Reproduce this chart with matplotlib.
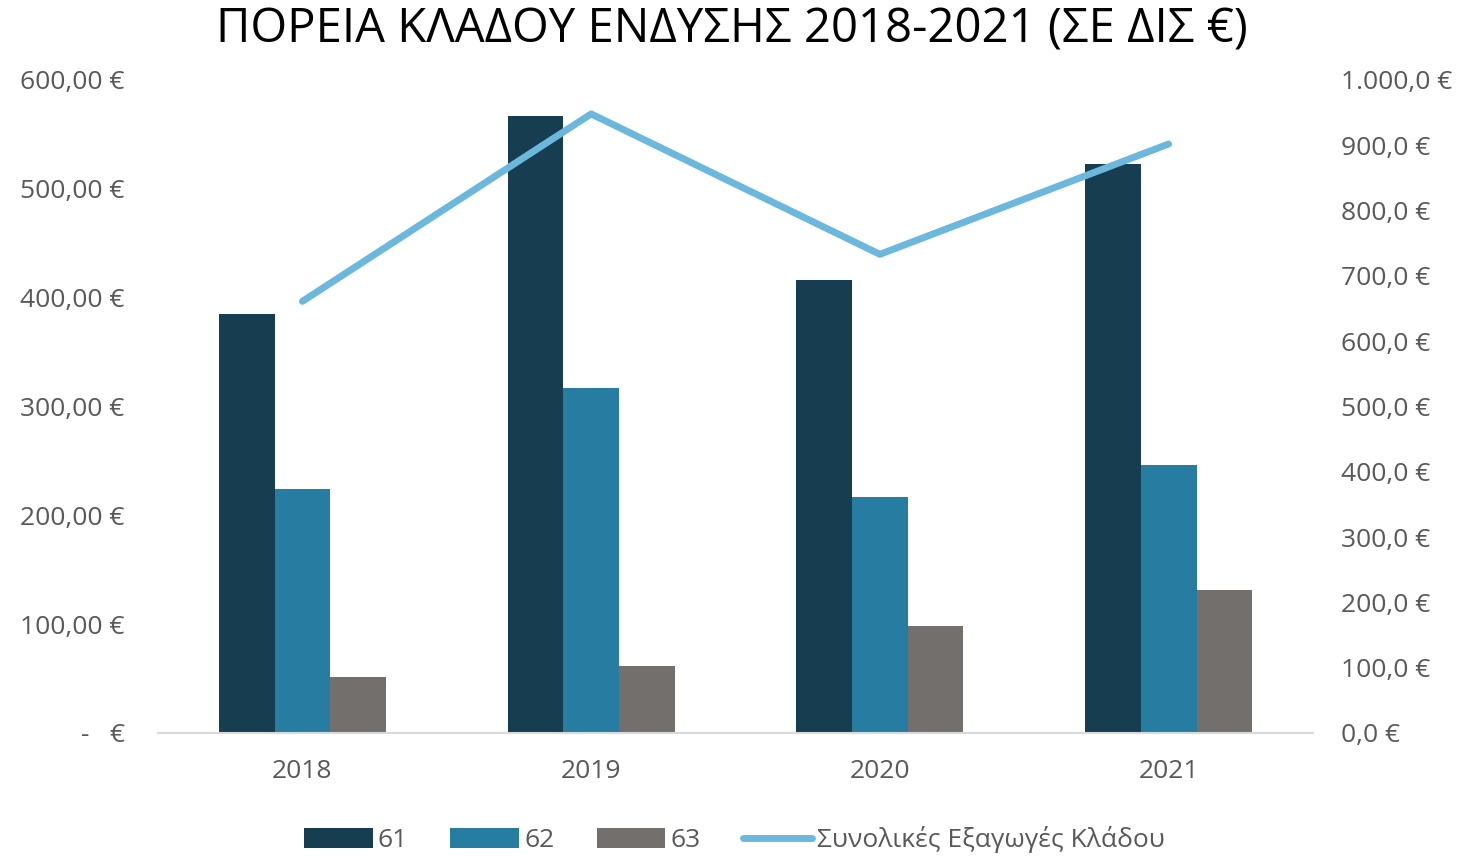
import matplotlib
matplotlib.use('Agg')
from matplotlib import pyplot as plt
from matplotlib.ticker import FuncFormatter, MultipleLocator
import numpy as np

plt.rcParams['font.family'] = ['Open Sans', 'DejaVu Sans']

years = ['2018', '2019', '2020', '2021']
s61 = [385, 567, 416, 523]
s62 = [224, 317, 217, 246]
s63 = [51, 62, 98, 131]
total = [661, 948, 733, 902]

c61, c62, c63, cline = '#163d50', '#277ca1', '#736f6d', '#6bb8dc'
grey = '#595959'

fig = plt.figure(figsize=(14.63, 8.57), dpi=100)
ax = fig.add_axes([0.108, 0.1447, 0.7895, 0.762])
ax2 = ax.twinx()

x = np.arange(len(years))
w = 0.193
ax.bar(x - w, s61, w, color=c61, label='61')
ax.bar(x, s62, w, color=c62, label='62')
ax.bar(x + w, s63, w, color=c63, label='63')
ax2.plot(x, total, color=cline, lw=5, solid_capstyle='round',
         label='Συνολικές Εξαγωγές Κλάδου')

ax.set_xlim(-0.5, 3.5)
ax.set_ylim(0, 600)
ax2.set_ylim(0, 1000)
ax.yaxis.set_major_locator(MultipleLocator(100))
ax2.yaxis.set_major_locator(MultipleLocator(100))


def left_fmt(v, pos):
    if v == 0:
        return '-   €'
    return f'{v:,.2f}'.replace(',', 'X').replace('.', ',').replace('X', '.') + ' €'


def right_fmt(v, pos):
    return f'{v:,.1f}'.replace(',', 'X').replace('.', ',').replace('X', '.') + ' €'


ax.yaxis.set_major_formatter(FuncFormatter(left_fmt))
ax2.yaxis.set_major_formatter(FuncFormatter(right_fmt))

ax.set_xticks(x)
ax.set_xticklabels(years)
for a in (ax, ax2):
    for s in ['top', 'right', 'left']:
        a.spines[s].set_visible(False)
    a.tick_params(length=0, labelsize=19, labelcolor=grey)
ax2.spines['bottom'].set_visible(False)
ax.spines['bottom'].set_color('#d9d9d9')
ax.spines['bottom'].set_linewidth(1.5)
ax.tick_params(axis='y', pad=24)
ax.tick_params(axis='x', pad=19)
ax2.tick_params(axis='y', pad=20)

fig.text(0.5, 0.965, 'ΠΟΡΕΙΑ ΚΛΑΔΟΥ ΕΝΔΥΣΗΣ 2018-2021 (ΣΕ ΔΙΣ €)',
         ha='center', va='center', fontsize=34, color='black')

h1, l1 = ax.get_legend_handles_labels()
h2, l2 = ax2.get_legend_handles_labels()
fig.legend(h1 + h2, l1 + l2, loc='center', bbox_to_anchor=(0.502, 0.02),
           ncol=4, frameon=False, fontsize=19, labelcolor=grey,
           handlelength=2.6, handleheight=0.8, handletextpad=0.2,
           columnspacing=1.6)

fig.savefig('out.png', dpi=100)
